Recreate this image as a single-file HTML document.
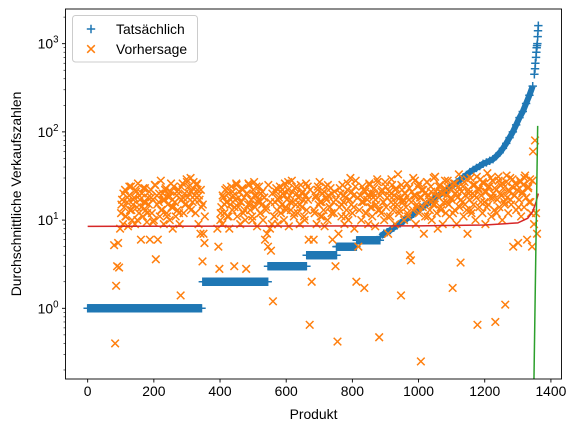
<!DOCTYPE html>
<html><head><meta charset="utf-8"><style>
html,body{margin:0;padding:0;background:#fff;}
svg{display:block;font-family:"Liberation Sans","DejaVu Sans",sans-serif;}
</style></head><body>
<svg id="chart" width="578" height="432" viewBox="0 0 578 432" xmlns="http://www.w3.org/2000/svg">
<rect x="0" y="0" width="578" height="432" fill="#fff"/>
<g id="plot"></g>
<g id="axes"></g>
</svg>
<script>
// ---- data ----
const stepStart=[0,348,545,662,752,813];
const stepEnd=[345,545,662,752,813,883];
const stepVal=[1,2,3,4,5,5.9];
const curveX=[885,895,905,915,925,935,945,955,965,975,985,995,1005,1015,1025,1035,1045,1055,1065,1075,1085,1095,1105,1115,1125,1135,1145,1155,1165,1175,1185,1195,1205,1215,1225,1235,1245,1255,1265,1275,1285,1295,1305,1315,1325,1335,1345,1350,1352,1353,1355,1356,1357,1358,1359,1360,1361,1362];
const curveY=[6.5,7,7.3,7.7,8.2,8.7,9.2,9.8,10.4,11,11.8,12.6,13.4,14.3,15.2,16.2,17.2,18.3,19.5,20.7,22,23.5,25,26.7,28.5,30.5,32.5,35,37,39,41,43.5,45,47,49,53,58,65,74,86,100,120,145,170,210,260,330,450,520,600,700,800,900,950,1000,1200,1400,1600];
const predStart=80, predStep=3;
const predY=[5.2,0.4,1.8,3.0,5.5,2.9,8.0,
12,17,9,14,22,11,16,8.5,19,13,24,10,15,18,9,21,14,26,12,17,6,20,11,16,23,13,9.5,18,15,6,22,12,17,10,25,3.6,19,6,16,11,28,13,20,9,17,23,12,15,18,10,21,14,8,24,16,11,19,13,22,9,1.4,17,26,12,20,15,29,18,24,14,30,21,16,27,19,12,25,22,9,17,7,14,
3.4,7,5.5,null,null,null,null,null,null,null,null,null,null,null,null,8,5,2.8,
10,14,9,18,12,22,16,11,20,8,15,24,13,19,3.0,17,26,11,14,21,9,16,23,12,18,10,2.8,20,15,25,13,17,11,22,27,14,19,8.5,16,24,12,20,15,10,18,6,13,
7,5,null,8,4.5,9,1.2,
11,16,21,13,9,18,24,12,15,20,10,26,14,17,22,8.5,19,13,28,16,11,23,15,20,12,18,9,25,14,21,17,10,19,13,24,6,0.65,
null,2.0,null,6,
12,18,9,22,15,27,11,16,20,13,8.5,24,17,10,19,14,23,12,6,16,21,
3,null,0.42,7,
14,20,11,25,16,9,18,13,22,10,17,30,15,12,19,8,24,
2.0,null,5,
13,19,10,24,16,1.7,21,12,17,9,
26,14,20,11,18,23,8.5,15,29,13,
0.47,19,12,22,16,10,27,14,18,7,
21,11,16,25,13,19,9,23,15,33,
12,18,1.4,22,16,10,20,14,26,11,
17,4,3.5,21,13,19,28,9,15,24,
12,18,0.25,22,14,7,20,16,27,11,
19,13,24,10,17,30,15,21,12,8,
18,25,14,20,9,16,23,12,19,28,
15,11,22,17,1.7,26,13,20,9,18,
24,14,3.3,21,16,11,27,19,13,7,
22,17,30,12,20,15,25,10,18,0.65,
23,14,29,19,12,26,16,9,21,34,
15,24,18,11,28,20,13,0.7,22,17,
31,14,25,19,10,23,16,1.1,27,18,
12,21,30,15,24,5,19,26,13,22,
5.5,17,28,11,20,25,14,32,18,6,
23,16,29,12,5,
60,9,80,12,7];
const pred2Start=102, pred2Step=6;
const predY2=[15,20,11,18,24,13,17,22,10,19,
14,23,16,12,21,18,9.5,25,15,20,
13,17,22,11,19,26,14,16,21,12,
24,18,15,27,20,13,23,17,26,19,
22,15,11,
null,null,null,null,null,null,null,
12,19,15,23,11,17,21,14,25,18,
16,22,13,20,26,15,10,19,24,17,
12,21,18,14,25,16,20,11,23,17,
14,22,19,13,27,16,21,12,24,18,
15,20,11,26,17,22,
null,
13,19,24,16,11,21,18,25,14,20,12,17,
null,
23,15,19,11,26,17,21,14,28,18,
null,
16,22,12,19,25,14,20,17,27,13,
21,16,24,11,19,29,15,22,18,13,
25,17,20,12,23,16,30,19,14,26,
18,22,11,27,17,21,15,31,19,24,
13,20,28,16,23,18,12,26,21,33,
17,24,15,29,20,13,25,19,31,22,
16,27,21,14,24,30,18,23,12,28,
20,26,15,32,22,17,29,19,25,14,
27,21,30,18,24,16,28];
const redX=[0,1000,1200,1300,1330,1345,1355,1362];
const redY=[8.5,8.6,8.8,9.3,10.5,12.5,16,20];
const greenX=[1348,1360];
const greenY=[0.1,117];
const xTicks=[0,200,400,600,800,1000,1200,1400];
const yTickExp=[0,1,2,3];

// ---- scales ----
const L=65.5,R=561.5,T=9,B=379;
const xMin=-67,xMax=1432,lMin=Math.log10(0.158),lMax=3.393;
const sx=v=>L+(v-xMin)/(xMax-xMin)*(R-L);
const sy=v=>B-(Math.log10(v)-lMin)/(lMax-lMin)*(B-T);
const NS="http://www.w3.org/2000/svg";
const plot=document.getElementById('plot');
const axes=document.getElementById('axes');
function mk(tag,attrs,parent){const e=document.createElementNS(NS,tag);for(const k in attrs)e.setAttribute(k,attrs[k]);parent.appendChild(e);return e;}

const defs=mk('defs',{},document.getElementById('chart'));
const cp=mk('clipPath',{id:'clip'},defs);
mk('rect',{x:L,y:T,width:R-L,height:B-T},cp);
plot.setAttribute('clip-path','url(#clip)');

function plus(x,y,g){const h=4.2;mk('path',{d:`M${x-h},${y}H${x+h}M${x},${y-h}V${y+h}`,stroke:'#1f77b4','stroke-width':1.5,fill:'none'},g);}
function cross(x,y,g){const h=3.8;mk('path',{d:`M${x-h},${y-h}L${x+h},${y+h}M${x-h},${y+h}L${x+h},${y-h}`,stroke:'#ff7f0e','stroke-width':1.5,fill:'none'},g);}

// actual series
const gA=mk('g',{},plot);


for(let s=0;s<stepVal.length;s++){
  for(let p=stepStart[s];p<=stepEnd[s];p+=2){plus(sx(p),sy(stepVal[s]),gA);}
  mk('rect',{x:sx(stepStart[s]),y:sy(stepVal[s])-3.5,width:sx(stepEnd[s])-sx(stepStart[s]),height:7,fill:'#1f77b4'},gA);
}
let cd='';
for(let i=0;i<curveX.length;i++){ if(curveX[i]>1345)break; cd+=(i?'L':'M')+sx(curveX[i])+','+sy(curveY[i]); }
mk('path',{d:cd,stroke:'#1f77b4','stroke-width':6,fill:'none','stroke-linejoin':'round'},gA);
for(let i=0;i<curveX.length;i++){plus(sx(curveX[i]),sy(curveY[i]),gA);}

// predicted series
const gP=mk('g',{},plot);


for(let i=0;i<predY.length;i++){
  if(predY[i]==null)continue;
  cross(sx(predStart+i*predStep),sy(predY[i]),gP);
}
for(let i=0;i<predY2.length;i++){
  if(predY2[i]==null)continue;
  cross(sx(pred2Start+i*pred2Step),sy(predY2[i]),gP);
}

// red line
let d='';
for(let i=0;i<redX.length;i++)d+=(i?'L':'M')+sx(redX[i])+','+sy(redY[i]);
const red=mk('path',{d:d,stroke:'#d62728','stroke-width':1.5,fill:'none'},plot);


// green line
d='';
for(let i=0;i<greenX.length;i++)d+=(i?'L':'M')+sx(greenX[i])+','+sy(greenY[i]);
const green=mk('path',{d:d,stroke:'#2ca02c','stroke-width':1.5,fill:'none'},plot);



// frame
const frame=mk('rect',{x:L,y:T,width:R-L,height:B-T,fill:'none',stroke:'#000','stroke-width':0.9},axes);



// x ticks
for(const t of xTicks){
  const x=sx(t);
  mk('line',{x1:x,x2:x,y1:B,y2:B+3.5,stroke:'#000','stroke-width':0.9},axes);
  const tx=mk('text',{x:x,y:B+17,'text-anchor':'middle','font-size':'13.9px',fill:'#000'},axes);
  tx.textContent=t;
  
  
}
// y ticks
for(let e=-1;e<=3;e++){
  for(let m=1;m<10;m++){
    const v=m*Math.pow(10,e);const y=sy(v);
    if(y<T||y>B)continue;
    mk('line',{x1:L,x2:L-(m===1?3.5:2),y1:y,y2:y,stroke:'#000','stroke-width':m===1?0.9:0.6},axes);
  }
}
for(const e of yTickExp){
  const y=sy(Math.pow(10,e));
  const tx=mk('text',{x:L-7,y:y+5,'text-anchor':'end','font-size':'13.9px',fill:'#000'},axes);
  
  
  const a=mk('tspan',{},tx);a.textContent='10';
  const b=mk('tspan',{dy:'-6','font-size':'9.7px'},tx);b.textContent=String(e);
}
// axis titles
const xt=mk('text',{x:(L+R)/2,y:419,'text-anchor':'middle','font-size':'13.9px',fill:'#000'},axes);
xt.textContent='Produkt';


const yt=mk('text',{x:0,y:0,'text-anchor':'middle','font-size':'13.9px',fill:'#000',transform:`translate(21,${(T+B)/2}) rotate(-90)`},axes);
yt.textContent='Durchschnittliche Verkaufszahlen';



// legend
const lg=mk('g',{},axes);


mk('rect',{x:72.5,y:15.5,width:125,height:46.5,rx:3,fill:'#fff','fill-opacity':0.8,stroke:'#ccc','stroke-width':1},lg);
const e1=mk('g',{},lg);


plus(91,29,e1);
const t1=mk('text',{x:116,y:34,'font-size':'13.9px',fill:'#000'},e1);t1.textContent='Tatsächlich';
const e2=mk('g',{},lg);


cross(91,49,e2);
const t2=mk('text',{x:116,y:54,'font-size':'13.9px',fill:'#000'},e2);t2.textContent='Vorhersage';
</script>
</body></html>
